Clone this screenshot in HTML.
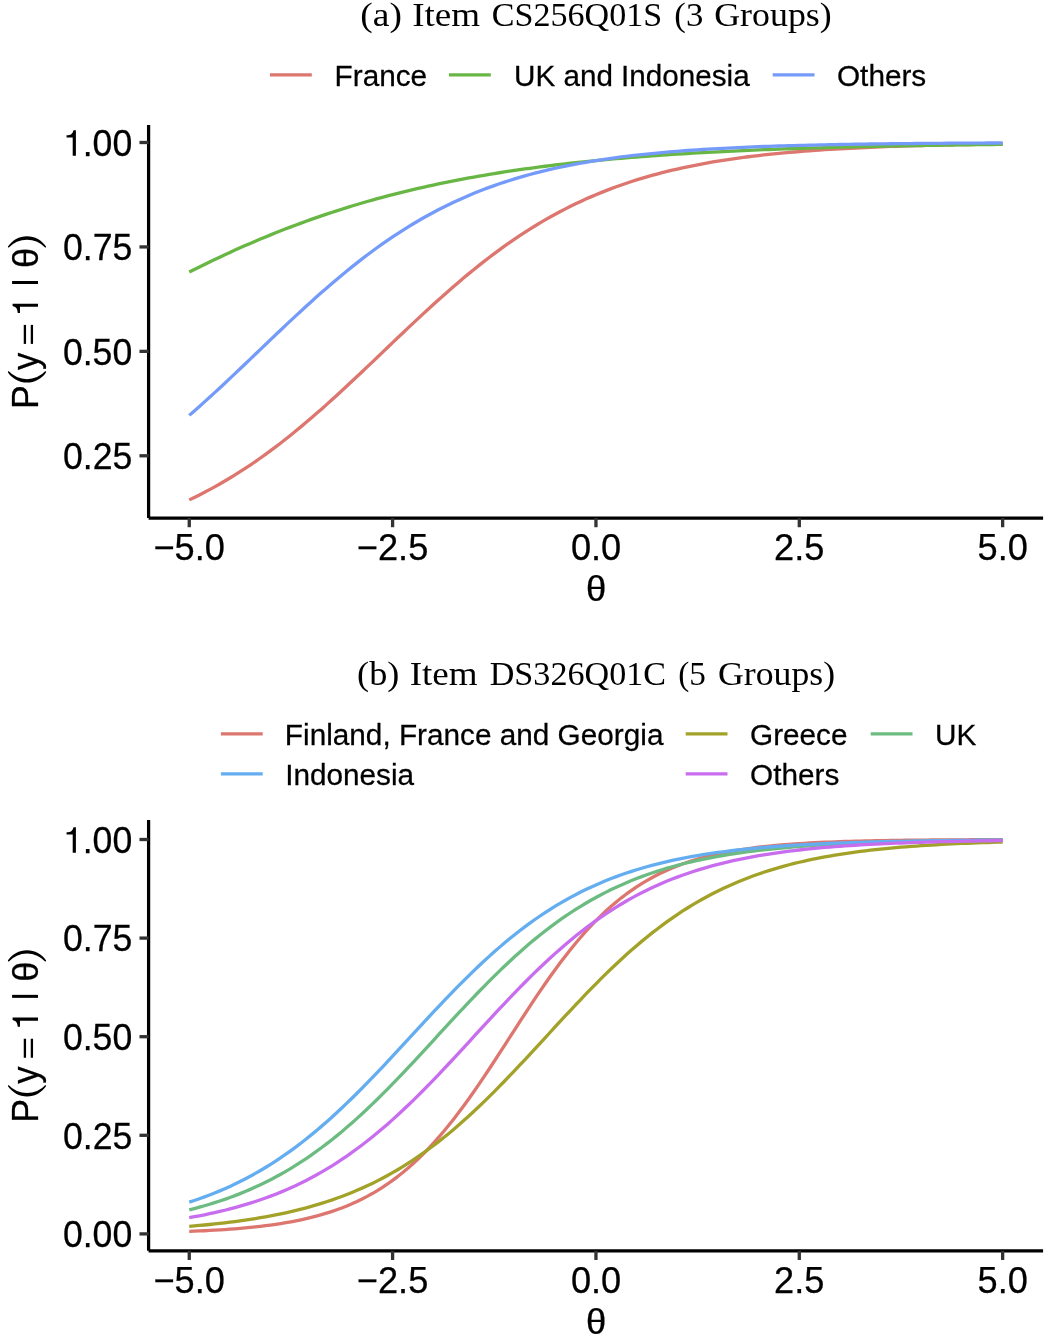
<!DOCTYPE html>
<html><head><meta charset="utf-8"><title>IRT curves</title>
<style>
html,body{margin:0;padding:0;background:#fff;}
body{width:1044px;height:1343px;overflow:hidden;}
svg{display:block;will-change:transform;}
text{font-family:"Liberation Sans",sans-serif;fill:#000;font-kerning:none;stroke:#000;stroke-width:0.25px;}
.ax{font-size:36.2px;}
.th{font-size:35.3px;}
.pn{stroke:none;}
.lg{font-size:29.3px;}
.ti{stroke:none;font-family:"Liberation Serif",serif;font-size:33.2px;}
</style></head><body>
<svg width="1044" height="1343" viewBox="0 0 1044 1343">
<rect width="1044" height="1343" fill="#fff"/>
<text class="ti" transform="translate(360.35,26.00) scale(1.1288,1.0000)">(a)</text>
<text class="ti" transform="translate(412.16,26.00) scale(1.1163,1.0000)">Item</text>
<text class="ti" transform="translate(491.80,26.00) scale(1.0269,1.0000)">CS256Q01S</text>
<text class="ti" transform="translate(674.37,26.00) scale(1.0482,1.0000)">(3</text>
<text class="ti" transform="translate(714.23,26.00) scale(1.0803,1.0000)">Groups)</text>
<text class="ti" transform="translate(357.11,684.90) scale(1.0924,1.0000)">(b)</text>
<text class="ti" transform="translate(409.66,684.90) scale(1.1163,1.0000)">Item</text>
<text class="ti" transform="translate(489.72,684.90) scale(1.0280,1.0000)">DS326Q01C</text>
<text class="ti" transform="translate(678.14,684.90) scale(1.0000,1.0000)">(5</text>
<text class="ti" transform="translate(718.03,684.90) scale(1.0765,1.0000)">Groups)</text>
<line x1="270" x2="311.8" y1="74.9" y2="74.9" stroke="#DC766E" stroke-width="3.3"/>
<text class="lg" transform="translate(334.56,86.00) scale(1.0154,1.0300)">France</text>
<line x1="449" x2="490.8" y1="74.9" y2="74.9" stroke="#68B744" stroke-width="3.3"/>
<text class="lg" transform="translate(514.01,86.00) scale(1.0118,1.0300)">UK and Indonesia</text>
<line x1="772.7" x2="814.5" y1="74.9" y2="74.9" stroke="#759BFA" stroke-width="3.3"/>
<text class="lg" transform="translate(836.99,86.00) scale(1.0154,1.0300)">Others</text>
<line x1="220.9" x2="262.7" y1="733.9" y2="733.9" stroke="#DC766E" stroke-width="3.3"/>
<text class="lg" transform="translate(284.86,744.90) scale(1.0154,1.0300)">Finland, France and Georgia</text>
<line x1="220.9" x2="262.7" y1="773.8" y2="773.8" stroke="#63ADF0" stroke-width="3.3"/>
<text class="lg" transform="translate(285.15,784.90) scale(1.0154,1.0300)">Indonesia</text>
<line x1="685.7" x2="727.5" y1="733.9" y2="733.9" stroke="#A2A229" stroke-width="3.3"/>
<text class="lg" transform="translate(750.00,744.90) scale(1.0154,1.0300)">Greece</text>
<line x1="685.7" x2="727.5" y1="773.8" y2="773.8" stroke="#C96DEF" stroke-width="3.3"/>
<text class="lg" transform="translate(750.09,784.70) scale(1.0154,1.0300)">Others</text>
<line x1="870.7" x2="912.5" y1="733.9" y2="733.9" stroke="#6CBC82" stroke-width="3.3"/>
<text class="lg" transform="translate(934.90,744.90) scale(1.0154,1.0300)">UK</text>
<path d="M189.25,499.87 L194.33,497.43 L199.42,494.91 L204.50,492.30 L209.59,489.61 L214.67,486.84 L219.75,483.98 L224.84,481.03 L229.92,478.00 L235.00,474.88 L240.09,471.68 L245.17,468.39 L250.25,465.01 L255.34,461.54 L260.42,457.99 L265.51,454.35 L270.59,450.63 L275.67,446.83 L280.76,442.94 L285.84,438.97 L290.93,434.93 L296.01,430.81 L301.09,426.61 L306.18,422.35 L311.26,418.01 L316.34,413.61 L321.43,409.15 L326.51,404.64 L331.60,400.06 L336.68,395.44 L341.76,390.77 L346.85,386.07 L351.93,381.32 L357.01,376.54 L362.10,371.74 L367.18,366.91 L372.26,362.07 L377.35,357.22 L382.43,352.36 L387.52,347.49 L392.60,342.64 L397.68,337.79 L402.77,332.95 L407.85,328.14 L412.94,323.35 L418.02,318.59 L423.10,313.87 L428.19,309.18 L433.27,304.54 L438.35,299.95 L443.44,295.41 L448.52,290.92 L453.60,286.50 L458.69,282.14 L463.77,277.84 L468.86,273.62 L473.94,269.47 L479.02,265.39 L484.11,261.39 L489.19,257.47 L494.27,253.63 L499.36,249.87 L504.44,246.20 L509.53,242.61 L514.61,239.11 L519.69,235.70 L524.78,232.37 L529.86,229.13 L534.94,225.98 L540.03,222.91 L545.11,219.93 L550.20,217.04 L555.28,214.23 L560.36,211.50 L565.45,208.86 L570.53,206.30 L575.62,203.83 L580.70,201.43 L585.78,199.11 L590.87,196.87 L595.95,194.71 L601.03,192.62 L606.12,190.60 L611.20,188.65 L616.28,186.78 L621.37,184.97 L626.45,183.22 L631.54,181.54 L636.62,179.93 L641.70,178.37 L646.79,176.87 L651.87,175.43 L656.96,174.05 L662.04,172.72 L667.12,171.44 L672.21,170.21 L677.29,169.03 L682.37,167.89 L687.46,166.81 L692.54,165.76 L697.62,164.76 L702.71,163.80 L707.79,162.88 L712.88,161.99 L717.96,161.15 L723.04,160.33 L728.13,159.56 L733.21,158.81 L738.29,158.10 L743.38,157.41 L748.46,156.76 L753.55,156.13 L758.63,155.53 L763.71,154.95 L768.80,154.40 L773.88,153.88 L778.96,153.37 L784.05,152.89 L789.13,152.43 L794.22,151.99 L799.30,151.56 L804.38,151.16 L809.47,150.77 L814.55,150.40 L819.63,150.05 L824.72,149.71 L829.80,149.39 L834.89,149.08 L839.97,148.79 L845.05,148.51 L850.14,148.24 L855.22,147.98 L860.31,147.73 L865.39,147.50 L870.47,147.27 L875.56,147.06 L880.64,146.85 L885.72,146.66 L890.81,146.47 L895.89,146.29 L900.98,146.12 L906.06,145.96 L911.14,145.80 L916.23,145.65 L921.31,145.51 L926.39,145.37 L931.48,145.24 L936.56,145.12 L941.64,145.00 L946.73,144.89 L951.81,144.78 L956.90,144.68 L961.98,144.58 L967.06,144.48 L972.15,144.39 L977.23,144.31 L982.31,144.23 L987.40,144.15 L992.48,144.07 L997.57,144.00 L1002.65,143.93" fill="none" stroke="#DC766E" stroke-width="3.3" stroke-linejoin="round"/>
<path d="M189.25,272.00 L194.33,269.45 L199.42,266.93 L204.50,264.44 L209.59,261.97 L214.67,259.54 L219.75,257.14 L224.84,254.77 L229.92,252.43 L235.00,250.12 L240.09,247.85 L245.17,245.60 L250.25,243.39 L255.34,241.21 L260.42,239.07 L265.51,236.95 L270.59,234.87 L275.67,232.83 L280.76,230.81 L285.84,228.83 L290.93,226.88 L296.01,224.97 L301.09,223.08 L306.18,221.23 L311.26,219.42 L316.34,217.63 L321.43,215.88 L326.51,214.16 L331.60,212.48 L336.68,210.82 L341.76,209.20 L346.85,207.61 L351.93,206.04 L357.01,204.51 L362.10,203.01 L367.18,201.54 L372.26,200.11 L377.35,198.70 L382.43,197.31 L387.52,195.96 L392.60,194.64 L397.68,193.34 L402.77,192.08 L407.85,190.84 L412.94,189.63 L418.02,188.44 L423.10,187.28 L428.19,186.15 L433.27,185.04 L438.35,183.95 L443.44,182.89 L448.52,181.86 L453.60,180.85 L458.69,179.86 L463.77,178.90 L468.86,177.95 L473.94,177.03 L479.02,176.14 L484.11,175.26 L489.19,174.40 L494.27,173.57 L499.36,172.75 L504.44,171.96 L509.53,171.18 L514.61,170.43 L519.69,169.69 L524.78,168.97 L529.86,168.27 L534.94,167.58 L540.03,166.91 L545.11,166.26 L550.20,165.63 L555.28,165.01 L560.36,164.40 L565.45,163.82 L570.53,163.24 L575.62,162.69 L580.70,162.14 L585.78,161.61 L590.87,161.10 L595.95,160.59 L601.03,160.10 L606.12,159.62 L611.20,159.16 L616.28,158.71 L621.37,158.27 L626.45,157.84 L631.54,157.42 L636.62,157.01 L641.70,156.61 L646.79,156.23 L651.87,155.85 L656.96,155.49 L662.04,155.13 L667.12,154.78 L672.21,154.45 L677.29,154.12 L682.37,153.80 L687.46,153.49 L692.54,153.18 L697.62,152.89 L702.71,152.60 L707.79,152.32 L712.88,152.05 L717.96,151.79 L723.04,151.53 L728.13,151.28 L733.21,151.04 L738.29,150.80 L743.38,150.57 L748.46,150.35 L753.55,150.13 L758.63,149.92 L763.71,149.71 L768.80,149.51 L773.88,149.32 L778.96,149.13 L784.05,148.94 L789.13,148.76 L794.22,148.59 L799.30,148.42 L804.38,148.25 L809.47,148.09 L814.55,147.94 L819.63,147.78 L824.72,147.64 L829.80,147.49 L834.89,147.35 L839.97,147.22 L845.05,147.09 L850.14,146.96 L855.22,146.83 L860.31,146.71 L865.39,146.59 L870.47,146.48 L875.56,146.37 L880.64,146.26 L885.72,146.15 L890.81,146.05 L895.89,145.95 L900.98,145.85 L906.06,145.76 L911.14,145.67 L916.23,145.58 L921.31,145.49 L926.39,145.41 L931.48,145.33 L936.56,145.25 L941.64,145.17 L946.73,145.10 L951.81,145.02 L956.90,144.95 L961.98,144.88 L967.06,144.82 L972.15,144.75 L977.23,144.69 L982.31,144.63 L987.40,144.57 L992.48,144.51 L997.57,144.45 L1002.65,144.40" fill="none" stroke="#68B744" stroke-width="3.3" stroke-linejoin="round"/>
<path d="M189.25,415.38 L194.33,410.94 L199.42,406.44 L204.50,401.88 L209.59,397.27 L214.67,392.62 L219.75,387.92 L224.84,383.19 L229.92,378.42 L235.00,373.62 L240.09,368.79 L245.17,363.95 L250.25,359.10 L255.34,354.23 L260.42,349.37 L265.51,344.50 L270.59,339.65 L275.67,334.80 L280.76,329.97 L285.84,325.17 L290.93,320.40 L296.01,315.65 L301.09,310.95 L306.18,306.29 L311.26,301.67 L316.34,297.10 L321.43,292.59 L326.51,288.14 L331.60,283.75 L336.68,279.43 L341.76,275.17 L346.85,270.99 L351.93,266.88 L357.01,262.85 L362.10,258.90 L367.18,255.02 L372.26,251.23 L377.35,247.53 L382.43,243.91 L387.52,240.37 L392.60,236.92 L397.68,233.56 L402.77,230.28 L407.85,227.10 L412.94,224.00 L418.02,220.98 L423.10,218.05 L428.19,215.21 L433.27,212.46 L438.35,209.78 L443.44,207.19 L448.52,204.69 L453.60,202.26 L458.69,199.91 L463.77,197.64 L468.86,195.45 L473.94,193.33 L479.02,191.29 L484.11,189.32 L489.19,187.41 L494.27,185.58 L499.36,183.81 L504.44,182.11 L509.53,180.47 L514.61,178.89 L519.69,177.37 L524.78,175.91 L529.86,174.51 L534.94,173.16 L540.03,171.86 L545.11,170.61 L550.20,169.41 L555.28,168.26 L560.36,167.16 L565.45,166.10 L570.53,165.08 L575.62,164.11 L580.70,163.17 L585.78,162.28 L590.87,161.42 L595.95,160.59 L601.03,159.80 L606.12,159.05 L611.20,158.32 L616.28,157.63 L621.37,156.96 L626.45,156.32 L631.54,155.72 L636.62,155.13 L641.70,154.57 L646.79,154.04 L651.87,153.53 L656.96,153.04 L662.04,152.57 L667.12,152.12 L672.21,151.69 L677.29,151.28 L682.37,150.89 L687.46,150.52 L692.54,150.16 L697.62,149.82 L702.71,149.49 L707.79,149.17 L712.88,148.88 L717.96,148.59 L723.04,148.32 L728.13,148.05 L733.21,147.80 L738.29,147.57 L743.38,147.34 L748.46,147.12 L753.55,146.91 L758.63,146.71 L763.71,146.52 L768.80,146.34 L773.88,146.17 L778.96,146.00 L784.05,145.84 L789.13,145.69 L794.22,145.55 L799.30,145.41 L804.38,145.28 L809.47,145.15 L814.55,145.03 L819.63,144.92 L824.72,144.81 L829.80,144.70 L834.89,144.60 L839.97,144.51 L845.05,144.42 L850.14,144.33 L855.22,144.25 L860.31,144.17 L865.39,144.09 L870.47,144.02 L875.56,143.95 L880.64,143.89 L885.72,143.82 L890.81,143.76 L895.89,143.71 L900.98,143.65 L906.06,143.60 L911.14,143.55 L916.23,143.50 L921.31,143.46 L926.39,143.41 L931.48,143.37 L936.56,143.33 L941.64,143.29 L946.73,143.26 L951.81,143.22 L956.90,143.19 L961.98,143.16 L967.06,143.13 L972.15,143.10 L977.23,143.07 L982.31,143.05 L987.40,143.02 L992.48,143.00 L997.57,142.98 L1002.65,142.95" fill="none" stroke="#759BFA" stroke-width="3.3" stroke-linejoin="round"/>
<path d="M148.6,124.9 V518.1 M148.6,518.1 H1043.1" fill="none" stroke="#000" stroke-width="3.25"/>
<line x1="139.47" x2="148.60" y1="142.50" y2="142.50" stroke="#333" stroke-width="3.3"/>
<text class="ax" transform="translate(82.72,155.80) scale(0.9850,1.0000)">.00</text>
<path d="M3.66,-18.21 V-20.45 C7.93,-20.85 9.48,-21.83 10.64,-25.67 H13.00 V0 H9.81 V-18.21 Z" transform="translate(62.90,155.80) scale(1,1.0)" fill="#000"/>
<line x1="139.47" x2="148.60" y1="246.93" y2="246.93" stroke="#333" stroke-width="3.3"/>
<text class="ax" transform="translate(63.00,260.23) scale(0.9850,1.0000)">0.75</text>
<line x1="139.47" x2="148.60" y1="351.35" y2="351.35" stroke="#333" stroke-width="3.3"/>
<text class="ax" transform="translate(62.89,364.65) scale(0.9850,1.0000)">0.50</text>
<line x1="139.47" x2="148.60" y1="455.78" y2="455.78" stroke="#333" stroke-width="3.3"/>
<text class="ax" transform="translate(63.00,469.08) scale(0.9850,1.0000)">0.25</text>
<line x1="189.25" x2="189.25" y1="518.10" y2="527.23" stroke="#333" stroke-width="3.3"/>
<text class="ax" transform="translate(153.43,560.30) scale(1.0000,1.0000)">−5.0</text>
<line x1="392.60" x2="392.60" y1="518.10" y2="527.23" stroke="#333" stroke-width="3.3"/>
<text class="ax" transform="translate(356.84,560.30) scale(1.0000,1.0000)">−2.5</text>
<line x1="595.95" x2="595.95" y1="518.10" y2="527.23" stroke="#333" stroke-width="3.3"/>
<text class="ax" transform="translate(570.89,560.30) scale(1.0000,1.0000)">0.0</text>
<line x1="799.30" x2="799.30" y1="518.10" y2="527.23" stroke="#333" stroke-width="3.3"/>
<text class="ax" transform="translate(774.09,560.30) scale(1.0000,1.0000)">2.5</text>
<line x1="1002.65" x2="1002.65" y1="518.10" y2="527.23" stroke="#333" stroke-width="3.3"/>
<text class="ax" transform="translate(977.57,560.30) scale(1.0000,1.0000)">5.0</text>
<text class="th" transform="translate(585.91,601.30) scale(1.0327,1.0000)">θ</text>
<path d="M189.25,1231.40 L194.33,1231.19 L199.42,1230.97 L204.50,1230.73 L209.59,1230.46 L214.67,1230.18 L219.75,1229.87 L224.84,1229.54 L229.92,1229.18 L235.00,1228.79 L240.09,1228.37 L245.17,1227.92 L250.25,1227.43 L255.34,1226.90 L260.42,1226.33 L265.51,1225.71 L270.59,1225.04 L275.67,1224.32 L280.76,1223.54 L285.84,1222.71 L290.93,1221.80 L296.01,1220.83 L301.09,1219.78 L306.18,1218.64 L311.26,1217.42 L316.34,1216.11 L321.43,1214.70 L326.51,1213.19 L331.60,1211.56 L336.68,1209.81 L341.76,1207.93 L346.85,1205.92 L351.93,1203.77 L357.01,1201.46 L362.10,1199.00 L367.18,1196.37 L372.26,1193.56 L377.35,1190.56 L382.43,1187.38 L387.52,1183.99 L392.60,1180.39 L397.68,1176.58 L402.77,1172.55 L407.85,1168.28 L412.94,1163.78 L418.02,1159.05 L423.10,1154.07 L428.19,1148.85 L433.27,1143.39 L438.35,1137.69 L443.44,1131.74 L448.52,1125.57 L453.60,1119.16 L458.69,1112.54 L463.77,1105.71 L468.86,1098.69 L473.94,1091.49 L479.02,1084.12 L484.11,1076.62 L489.19,1068.99 L494.27,1061.26 L499.36,1053.45 L504.44,1045.59 L509.53,1037.70 L514.61,1029.81 L519.69,1021.94 L524.78,1014.12 L529.86,1006.37 L534.94,998.71 L540.03,991.17 L545.11,983.77 L550.20,976.52 L555.28,969.45 L560.36,962.58 L565.45,955.90 L570.53,949.44 L575.62,943.20 L580.70,937.20 L585.78,931.44 L590.87,925.91 L595.95,920.63 L601.03,915.59 L606.12,910.80 L611.20,906.24 L616.28,901.92 L621.37,897.82 L626.45,893.95 L631.54,890.30 L636.62,886.86 L641.70,883.63 L646.79,880.59 L651.87,877.73 L656.96,875.05 L662.04,872.55 L667.12,870.20 L672.21,868.01 L677.29,865.96 L682.37,864.05 L687.46,862.27 L692.54,860.62 L697.62,859.07 L702.71,857.64 L707.79,856.30 L712.88,855.06 L717.96,853.90 L723.04,852.83 L728.13,851.84 L733.21,850.92 L738.29,850.06 L743.38,849.27 L748.46,848.54 L753.55,847.85 L758.63,847.22 L763.71,846.64 L768.80,846.10 L773.88,845.60 L778.96,845.14 L784.05,844.71 L789.13,844.31 L794.22,843.95 L799.30,843.61 L804.38,843.30 L809.47,843.01 L814.55,842.74 L819.63,842.49 L824.72,842.26 L829.80,842.05 L834.89,841.86 L839.97,841.68 L845.05,841.51 L850.14,841.36 L855.22,841.21 L860.31,841.08 L865.39,840.96 L870.47,840.85 L875.56,840.75 L880.64,840.65 L885.72,840.56 L890.81,840.48 L895.89,840.40 L900.98,840.34 L906.06,840.27 L911.14,840.21 L916.23,840.16 L921.31,840.11 L926.39,840.06 L931.48,840.02 L936.56,839.98 L941.64,839.94 L946.73,839.91 L951.81,839.88 L956.90,839.85 L961.98,839.82 L967.06,839.80 L972.15,839.77 L977.23,839.75 L982.31,839.73 L987.40,839.71 L992.48,839.70 L997.57,839.68 L1002.65,839.67" fill="none" stroke="#DC766E" stroke-width="3.3" stroke-linejoin="round"/>
<path d="M189.25,1226.36 L194.33,1225.93 L199.42,1225.48 L204.50,1225.01 L209.59,1224.51 L214.67,1223.98 L219.75,1223.42 L224.84,1222.83 L229.92,1222.21 L235.00,1221.56 L240.09,1220.87 L245.17,1220.15 L250.25,1219.38 L255.34,1218.58 L260.42,1217.73 L265.51,1216.83 L270.59,1215.90 L275.67,1214.91 L280.76,1213.87 L285.84,1212.77 L290.93,1211.62 L296.01,1210.41 L301.09,1209.14 L306.18,1207.81 L311.26,1206.41 L316.34,1204.94 L321.43,1203.40 L326.51,1201.78 L331.60,1200.09 L336.68,1198.31 L341.76,1196.45 L346.85,1194.51 L351.93,1192.47 L357.01,1190.35 L362.10,1188.13 L367.18,1185.81 L372.26,1183.39 L377.35,1180.87 L382.43,1178.24 L387.52,1175.50 L392.60,1172.66 L397.68,1169.70 L402.77,1166.63 L407.85,1163.44 L412.94,1160.13 L418.02,1156.71 L423.10,1153.17 L428.19,1149.51 L433.27,1145.73 L438.35,1141.83 L443.44,1137.81 L448.52,1133.67 L453.60,1129.42 L458.69,1125.06 L463.77,1120.58 L468.86,1116.00 L473.94,1111.31 L479.02,1106.52 L484.11,1101.64 L489.19,1096.66 L494.27,1091.60 L499.36,1086.46 L504.44,1081.24 L509.53,1075.96 L514.61,1070.62 L519.69,1065.23 L524.78,1059.80 L529.86,1054.32 L534.94,1048.82 L540.03,1043.31 L545.11,1037.78 L550.20,1032.25 L555.28,1026.73 L560.36,1021.22 L565.45,1015.73 L570.53,1010.28 L575.62,1004.87 L580.70,999.51 L585.78,994.21 L590.87,988.97 L595.95,983.80 L601.03,978.70 L606.12,973.69 L611.20,968.77 L616.28,963.95 L621.37,959.22 L626.45,954.59 L631.54,950.08 L636.62,945.67 L641.70,941.37 L646.79,937.19 L651.87,933.13 L656.96,929.18 L662.04,925.35 L667.12,921.65 L672.21,918.06 L677.29,914.59 L682.37,911.24 L687.46,908.00 L692.54,904.89 L697.62,901.88 L702.71,898.99 L707.79,896.22 L712.88,893.55 L717.96,890.98 L723.04,888.52 L728.13,886.17 L733.21,883.91 L738.29,881.74 L743.38,879.67 L748.46,877.69 L753.55,875.80 L758.63,874.00 L763.71,872.27 L768.80,870.62 L773.88,869.05 L778.96,867.56 L784.05,866.13 L789.13,864.77 L794.22,863.47 L799.30,862.24 L804.38,861.07 L809.47,859.95 L814.55,858.89 L819.63,857.88 L824.72,856.93 L829.80,856.02 L834.89,855.15 L839.97,854.33 L845.05,853.55 L850.14,852.81 L855.22,852.11 L860.31,851.44 L865.39,850.81 L870.47,850.21 L875.56,849.64 L880.64,849.10 L885.72,848.59 L890.81,848.10 L895.89,847.64 L900.98,847.21 L906.06,846.79 L911.14,846.40 L916.23,846.03 L921.31,845.68 L926.39,845.35 L931.48,845.03 L936.56,844.74 L941.64,844.45 L946.73,844.19 L951.81,843.93 L956.90,843.70 L961.98,843.47 L967.06,843.25 L972.15,843.05 L977.23,842.86 L982.31,842.68 L987.40,842.51 L992.48,842.34 L997.57,842.19 L1002.65,842.04" fill="none" stroke="#A2A229" stroke-width="3.3" stroke-linejoin="round"/>
<path d="M189.25,1209.88 L194.33,1208.58 L199.42,1207.21 L204.50,1205.78 L209.59,1204.28 L214.67,1202.70 L219.75,1201.05 L224.84,1199.32 L229.92,1197.50 L235.00,1195.60 L240.09,1193.62 L245.17,1191.54 L250.25,1189.37 L255.34,1187.10 L260.42,1184.73 L265.51,1182.26 L270.59,1179.69 L275.67,1177.01 L280.76,1174.22 L285.84,1171.32 L290.93,1168.30 L296.01,1165.17 L301.09,1161.92 L306.18,1158.56 L311.26,1155.07 L316.34,1151.47 L321.43,1147.75 L326.51,1143.91 L331.60,1139.94 L336.68,1135.86 L341.76,1131.67 L346.85,1127.35 L351.93,1122.93 L357.01,1118.39 L362.10,1113.75 L367.18,1109.01 L372.26,1104.17 L377.35,1099.23 L382.43,1094.20 L387.52,1089.09 L392.60,1083.91 L397.68,1078.65 L402.77,1073.33 L407.85,1067.96 L412.94,1062.53 L418.02,1057.07 L423.10,1051.58 L428.19,1046.06 L433.27,1040.53 L438.35,1034.99 L443.44,1029.45 L448.52,1023.93 L453.60,1018.42 L458.69,1012.94 L463.77,1007.51 L468.86,1002.11 L473.94,996.77 L479.02,991.49 L484.11,986.28 L489.19,981.14 L494.27,976.08 L499.36,971.11 L504.44,966.23 L509.53,961.44 L514.61,956.76 L519.69,952.19 L524.78,947.72 L529.86,943.36 L534.94,939.12 L540.03,935.00 L545.11,930.99 L550.20,927.10 L555.28,923.33 L560.36,919.69 L565.45,916.16 L570.53,912.75 L575.62,909.45 L580.70,906.28 L585.78,903.22 L590.87,900.28 L595.95,897.44 L601.03,894.72 L606.12,892.11 L611.20,889.60 L616.28,887.19 L621.37,884.89 L626.45,882.68 L631.54,880.56 L636.62,878.54 L641.70,876.61 L646.79,874.76 L651.87,873.00 L656.96,871.32 L662.04,869.71 L667.12,868.18 L672.21,866.72 L677.29,865.33 L682.37,864.01 L687.46,862.75 L692.54,861.55 L697.62,860.41 L702.71,859.33 L707.79,858.29 L712.88,857.31 L717.96,856.38 L723.04,855.50 L728.13,854.66 L733.21,853.86 L738.29,853.10 L743.38,852.38 L748.46,851.70 L753.55,851.05 L758.63,850.44 L763.71,849.86 L768.80,849.31 L773.88,848.78 L778.96,848.29 L784.05,847.82 L789.13,847.37 L794.22,846.95 L799.30,846.55 L804.38,846.17 L809.47,845.81 L814.55,845.47 L819.63,845.15 L824.72,844.85 L829.80,844.56 L834.89,844.29 L839.97,844.03 L845.05,843.78 L850.14,843.55 L855.22,843.33 L860.31,843.12 L865.39,842.93 L870.47,842.74 L875.56,842.57 L880.64,842.40 L885.72,842.24 L890.81,842.09 L895.89,841.95 L900.98,841.82 L906.06,841.69 L911.14,841.57 L916.23,841.46 L921.31,841.36 L926.39,841.25 L931.48,841.16 L936.56,841.07 L941.64,840.98 L946.73,840.90 L951.81,840.83 L956.90,840.75 L961.98,840.69 L967.06,840.62 L972.15,840.56 L977.23,840.50 L982.31,840.45 L987.40,840.40 L992.48,840.35 L997.57,840.30 L1002.65,840.26" fill="none" stroke="#6CBC82" stroke-width="3.3" stroke-linejoin="round"/>
<path d="M189.25,1202.16 L194.33,1200.49 L199.42,1198.74 L204.50,1196.91 L209.59,1194.99 L214.67,1192.98 L219.75,1190.88 L224.84,1188.69 L229.92,1186.40 L235.00,1184.02 L240.09,1181.53 L245.17,1178.93 L250.25,1176.23 L255.34,1173.42 L260.42,1170.50 L265.51,1167.47 L270.59,1164.32 L275.67,1161.06 L280.76,1157.67 L285.84,1154.17 L290.93,1150.56 L296.01,1146.82 L301.09,1142.96 L306.18,1138.99 L311.26,1134.90 L316.34,1130.69 L321.43,1126.37 L326.51,1121.94 L331.60,1117.40 L336.68,1112.76 L341.76,1108.01 L346.85,1103.17 L351.93,1098.23 L357.01,1093.21 L362.10,1088.11 L367.18,1082.93 L372.26,1077.68 L377.35,1072.38 L382.43,1067.01 L387.52,1061.61 L392.60,1056.16 L397.68,1050.68 L402.77,1045.18 L407.85,1039.67 L412.94,1034.16 L418.02,1028.64 L423.10,1023.14 L428.19,1017.67 L433.27,1012.22 L438.35,1006.80 L443.44,1001.44 L448.52,996.13 L453.60,990.88 L458.69,985.69 L463.77,980.58 L468.86,975.55 L473.94,970.61 L479.02,965.76 L484.11,961.01 L489.19,956.35 L494.27,951.81 L499.36,947.37 L504.44,943.04 L509.53,938.82 L514.61,934.72 L519.69,930.74 L524.78,926.88 L529.86,923.13 L534.94,919.50 L540.03,915.99 L545.11,912.60 L550.20,909.33 L555.28,906.17 L560.36,903.13 L565.45,900.20 L570.53,897.38 L575.62,894.67 L580.70,892.07 L585.78,889.57 L590.87,887.18 L595.95,884.88 L601.03,882.68 L606.12,880.58 L611.20,878.56 L616.28,876.64 L621.37,874.80 L626.45,873.04 L631.54,871.36 L636.62,869.76 L641.70,868.24 L646.79,866.78 L651.87,865.39 L656.96,864.07 L662.04,862.81 L667.12,861.62 L672.21,860.48 L677.29,859.39 L682.37,858.36 L687.46,857.38 L692.54,856.45 L697.62,855.57 L702.71,854.73 L707.79,853.93 L712.88,853.17 L717.96,852.45 L723.04,851.77 L728.13,851.12 L733.21,850.51 L738.29,849.92 L743.38,849.37 L748.46,848.85 L753.55,848.35 L758.63,847.88 L763.71,847.43 L768.80,847.01 L773.88,846.61 L778.96,846.23 L784.05,845.87 L789.13,845.52 L794.22,845.20 L799.30,844.90 L804.38,844.61 L809.47,844.33 L814.55,844.07 L819.63,843.83 L824.72,843.59 L829.80,843.37 L834.89,843.16 L839.97,842.97 L845.05,842.78 L850.14,842.60 L855.22,842.43 L860.31,842.28 L865.39,842.13 L870.47,841.98 L875.56,841.85 L880.64,841.72 L885.72,841.60 L890.81,841.49 L895.89,841.38 L900.98,841.28 L906.06,841.18 L911.14,841.09 L916.23,841.00 L921.31,840.92 L926.39,840.85 L931.48,840.77 L936.56,840.70 L941.64,840.64 L946.73,840.58 L951.81,840.52 L956.90,840.46 L961.98,840.41 L967.06,840.36 L972.15,840.31 L977.23,840.27 L982.31,840.23 L987.40,840.19 L992.48,840.15 L997.57,840.12 L1002.65,840.08" fill="none" stroke="#63ADF0" stroke-width="3.3" stroke-linejoin="round"/>
<path d="M189.25,1217.61 L194.33,1216.71 L199.42,1215.76 L204.50,1214.76 L209.59,1213.71 L214.67,1212.61 L219.75,1211.45 L224.84,1210.23 L229.92,1208.95 L235.00,1207.60 L240.09,1206.19 L245.17,1204.70 L250.25,1203.15 L255.34,1201.51 L260.42,1199.80 L265.51,1198.01 L270.59,1196.14 L275.67,1194.17 L280.76,1192.12 L285.84,1189.98 L290.93,1187.73 L296.01,1185.39 L301.09,1182.95 L306.18,1180.41 L311.26,1177.75 L316.34,1174.99 L321.43,1172.12 L326.51,1169.14 L331.60,1166.04 L336.68,1162.82 L341.76,1159.49 L346.85,1156.04 L351.93,1152.47 L357.01,1148.77 L362.10,1144.96 L367.18,1141.03 L372.26,1136.98 L377.35,1132.82 L382.43,1128.54 L387.52,1124.14 L392.60,1119.63 L397.68,1115.02 L402.77,1110.30 L407.85,1105.48 L412.94,1100.57 L418.02,1095.57 L423.10,1090.48 L428.19,1085.31 L433.27,1080.07 L438.35,1074.77 L443.44,1069.41 L448.52,1064.00 L453.60,1058.54 L458.69,1053.05 L463.77,1047.54 L468.86,1042.01 L473.94,1036.47 L479.02,1030.93 L484.11,1025.40 L489.19,1019.89 L494.27,1014.40 L499.36,1008.95 L504.44,1003.54 L509.53,998.18 L514.61,992.89 L519.69,987.65 L524.78,982.49 L529.86,977.41 L534.94,972.41 L540.03,967.51 L545.11,962.70 L550.20,957.99 L555.28,953.38 L560.36,948.89 L565.45,944.50 L570.53,940.23 L575.62,936.07 L580.70,932.03 L585.78,928.11 L590.87,924.31 L595.95,920.63 L601.03,917.07 L606.12,913.63 L611.20,910.30 L616.28,907.10 L621.37,904.01 L626.45,901.03 L631.54,898.17 L636.62,895.42 L641.70,892.78 L646.79,890.24 L651.87,887.81 L656.96,885.48 L662.04,883.24 L667.12,881.10 L672.21,879.06 L677.29,877.10 L682.37,875.23 L687.46,873.45 L692.54,871.75 L697.62,870.12 L702.71,868.57 L707.79,867.09 L712.88,865.69 L717.96,864.34 L723.04,863.07 L728.13,861.85 L733.21,860.70 L738.29,859.60 L743.38,858.55 L748.46,857.56 L753.55,856.62 L758.63,855.72 L763.71,854.87 L768.80,854.06 L773.88,853.29 L778.96,852.56 L784.05,851.87 L789.13,851.21 L794.22,850.59 L799.30,850.00 L804.38,849.44 L809.47,848.91 L814.55,848.41 L819.63,847.93 L824.72,847.48 L829.80,847.05 L834.89,846.65 L839.97,846.27 L845.05,845.90 L850.14,845.56 L855.22,845.23 L860.31,844.92 L865.39,844.63 L870.47,844.35 L875.56,844.09 L880.64,843.84 L885.72,843.61 L890.81,843.39 L895.89,843.18 L900.98,842.98 L906.06,842.79 L911.14,842.61 L916.23,842.44 L921.31,842.28 L926.39,842.13 L931.48,841.99 L936.56,841.85 L941.64,841.72 L946.73,841.60 L951.81,841.49 L956.90,841.38 L961.98,841.28 L967.06,841.18 L972.15,841.09 L977.23,841.00 L982.31,840.92 L987.40,840.84 L992.48,840.77 L997.57,840.70 L1002.65,840.64" fill="none" stroke="#C96DEF" stroke-width="3.3" stroke-linejoin="round"/>
<path d="M148.6,820.0 V1250.85 M148.6,1250.85 H1043.1" fill="none" stroke="#000" stroke-width="3.25"/>
<line x1="139.47" x2="148.60" y1="839.50" y2="839.50" stroke="#333" stroke-width="3.3"/>
<text class="ax" transform="translate(82.72,852.80) scale(0.9850,1.0000)">.00</text>
<path d="M3.66,-18.21 V-20.45 C7.93,-20.85 9.48,-21.83 10.64,-25.67 H13.00 V0 H9.81 V-18.21 Z" transform="translate(62.90,852.80) scale(1,1.0)" fill="#000"/>
<line x1="139.47" x2="148.60" y1="938.10" y2="938.10" stroke="#333" stroke-width="3.3"/>
<text class="ax" transform="translate(63.00,951.40) scale(0.9850,1.0000)">0.75</text>
<line x1="139.47" x2="148.60" y1="1036.70" y2="1036.70" stroke="#333" stroke-width="3.3"/>
<text class="ax" transform="translate(62.89,1050.00) scale(0.9850,1.0000)">0.50</text>
<line x1="139.47" x2="148.60" y1="1135.30" y2="1135.30" stroke="#333" stroke-width="3.3"/>
<text class="ax" transform="translate(63.00,1148.60) scale(0.9850,1.0000)">0.25</text>
<line x1="139.47" x2="148.60" y1="1233.90" y2="1233.90" stroke="#333" stroke-width="3.3"/>
<text class="ax" transform="translate(62.89,1247.20) scale(0.9850,1.0000)">0.00</text>
<line x1="189.25" x2="189.25" y1="1250.85" y2="1259.97" stroke="#333" stroke-width="3.3"/>
<text class="ax" transform="translate(153.43,1293.05) scale(1.0000,1.0000)">−5.0</text>
<line x1="392.60" x2="392.60" y1="1250.85" y2="1259.97" stroke="#333" stroke-width="3.3"/>
<text class="ax" transform="translate(356.84,1293.05) scale(1.0000,1.0000)">−2.5</text>
<line x1="595.95" x2="595.95" y1="1250.85" y2="1259.97" stroke="#333" stroke-width="3.3"/>
<text class="ax" transform="translate(570.89,1293.05) scale(1.0000,1.0000)">0.0</text>
<line x1="799.30" x2="799.30" y1="1250.85" y2="1259.97" stroke="#333" stroke-width="3.3"/>
<text class="ax" transform="translate(774.09,1293.05) scale(1.0000,1.0000)">2.5</text>
<line x1="1002.65" x2="1002.65" y1="1250.85" y2="1259.97" stroke="#333" stroke-width="3.3"/>
<text class="ax" transform="translate(977.57,1293.05) scale(1.0000,1.0000)">5.0</text>
<text class="th" transform="translate(585.91,1334.05) scale(1.0327,1.0000)">θ</text>
<g transform="translate(38.0,406.05) rotate(-90)"><text class="ax" style="font-size:36.2px" transform="translate(-2.93,0) scale(0.9862,1.0300)">P</text></g>
<path d="M7.82,372.18 A22.85,22.85 0 0 0 46.17,372.18 L45.42,371.06 A24.83,24.83 0 0 1 8.56,371.06 Z" fill="#000"/>
<g transform="translate(38.0,369.90) rotate(-90)"><text class="ax" style="font-size:36.2px" transform="translate(-0.08,0) scale(0.9531,1.0000)">y</text></g>
<g transform="translate(38.0,343.90) rotate(-90)"><rect x="0" y="-7.25" width="19" height="2.3"/><rect x="0" y="-14.25" width="19" height="2.3"/></g>
<g transform="translate(38.0,313.00) rotate(-90)"><path d="M3.66,-18.21 V-20.45 C7.93,-20.85 9.48,-21.83 10.64,-25.67 H13.00 V0 H9.81 V-18.21 Z" transform="translate(-3.64,0) scale(0.9958,0.9896)"/></g>
<g transform="translate(38.0,284.00) rotate(-90)"><rect x="0" y="-25.9" width="3.0" height="25.9"/></g>
<g transform="translate(38.0,266.10) rotate(-90)"><text class="th" style="font-size:35.3px" transform="translate(-1.88,0) scale(1.0264,1.0000)">θ</text></g>
<path d="M7.82,246.75 A22.85,22.85 0 0 1 46.17,246.75 L45.42,247.87 A24.83,24.83 0 0 0 8.56,247.87 Z" fill="#000"/>
<g transform="translate(38.0,1119.90) rotate(-90)"><text class="ax" style="font-size:36.2px" transform="translate(-2.93,0) scale(0.9862,1.0300)">P</text></g>
<path d="M7.82,1086.03 A22.85,22.85 0 0 0 46.17,1086.03 L45.42,1084.91 A24.83,24.83 0 0 1 8.56,1084.91 Z" fill="#000"/>
<g transform="translate(38.0,1083.75) rotate(-90)"><text class="ax" style="font-size:36.2px" transform="translate(-0.08,0) scale(0.9531,1.0000)">y</text></g>
<g transform="translate(38.0,1057.75) rotate(-90)"><rect x="0" y="-7.25" width="19" height="2.3"/><rect x="0" y="-14.25" width="19" height="2.3"/></g>
<g transform="translate(38.0,1026.85) rotate(-90)"><path d="M3.66,-18.21 V-20.45 C7.93,-20.85 9.48,-21.83 10.64,-25.67 H13.00 V0 H9.81 V-18.21 Z" transform="translate(-3.64,0) scale(0.9958,0.9896)"/></g>
<g transform="translate(38.0,997.85) rotate(-90)"><rect x="0" y="-25.9" width="3.0" height="25.9"/></g>
<g transform="translate(38.0,979.95) rotate(-90)"><text class="th" style="font-size:35.3px" transform="translate(-1.88,0) scale(1.0264,1.0000)">θ</text></g>
<path d="M7.82,960.60 A22.85,22.85 0 0 1 46.17,960.60 L45.42,961.72 A24.83,24.83 0 0 0 8.56,961.72 Z" fill="#000"/>
</svg>
</body></html>
